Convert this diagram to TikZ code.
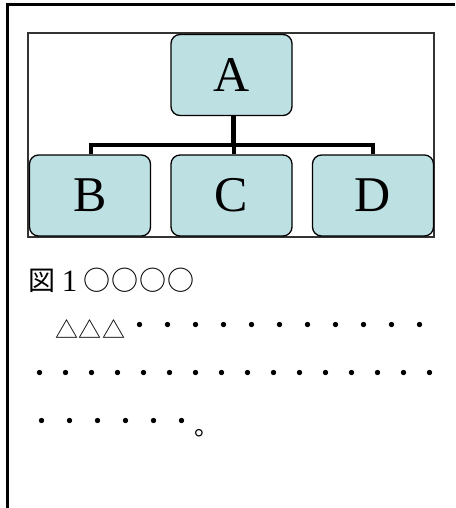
\documentclass[tikz,border=0pt]{standalone}
\usepackage{fontspec}
\setmainfont{Liberation Serif}
\newfontfamily\jpfont{Noto Sans CJK JP}
\definecolor{boxfill}{HTML}{BDE0E3}
\definecolor{framegray}{HTML}{333333}
\tikzset{
  orgbox/.style={draw=black, line width=1.3pt, fill=boxfill, rounded corners=9pt,
    minimum width=121pt, minimum height=81pt, inner sep=0pt,
    font=\fontsize{50}{50}\selectfont},
  conn/.style={line width=4pt, line join=miter},
  jpchar/.style={inner sep=0pt, font=\jpfont\fontsize{27}{27}\selectfont},
  jptri/.style={inner sep=0pt, font=\jpfont\fontsize{23}{23}\selectfont},
  jpdot/.style={inner sep=0pt, font=\jpfont\fontsize{25}{25}\selectfont},
  serifchar/.style={inner sep=0pt, font=\fontsize{31}{31}\selectfont}
}
\begin{document}
\begin{tikzpicture}[x=1pt, y=-1pt]
\useasboundingbox (0,0) rectangle (455,508);
% outer page frame
\draw[line width=2.5pt] (455,4.5) -- (7.5,4.5) -- (7.5,508);
% inner figure frame
\draw[draw=framegray, line width=1.4pt] (28,33) rectangle (434,237);
% org chart boxes
\node[orgbox] (A) at (231.5,75) {A};
\node[orgbox] (B) at (90,195.5) {B};
\node[orgbox] (C) at (231.5,195.5) {C};
\node[orgbox] (D) at (373,195.5) {D};
\coordinate (bar) at (233.5,145);
% connectors
\draw[conn, line width=5pt] (A.south -| bar) -- (bar);
\draw[conn] (B.north -| 90.5,0) |- (bar) -| (D.north -| 373,0);
\draw[conn] (C.north -| bar) -- (bar);
% caption line
\node[jpchar] (fig) at (41.5,280.5) {図};
\node[serifchar] (num) at (69.5,281) {1};
\foreach \i/\x in {1/96.5,2/124.5,3/152.5,4/181}
  \node[jpchar] (o\i) at (\x,280.5) {○};
% second line
\foreach \i/\x in {1/67,2/90,3/113.5}
  \node[jptri] (t\i) at (\x,329) {△};
\foreach \i in {0,...,10}
  \node[jpdot] (r2d\i) at (140+28*\i,328) {・};
% third line
\foreach \i in {0,...,15}
  \node[jpdot] (r3d\i) at (40+26*\i,376) {・};
% fourth line
\foreach \i in {0,...,5}
  \node[jpdot] (r4d\i) at (42+28*\i,424) {・};
\node[jpdot] (end) at (207,433) {。};
\end{tikzpicture}
\end{document}
